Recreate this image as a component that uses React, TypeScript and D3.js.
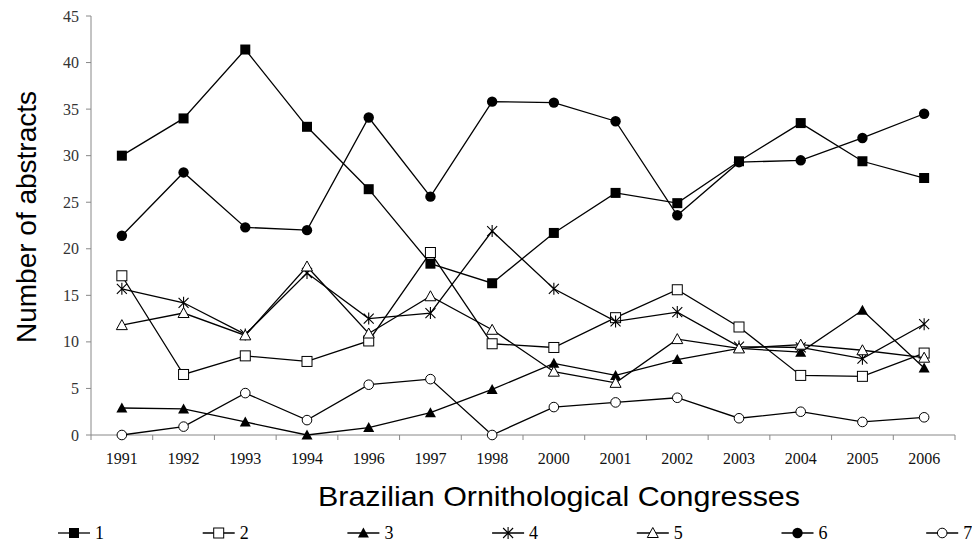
import React from "react";
import * as d3 from "d3";

const congresses = ["1991", "1992", "1993", "1994", "1996", "1997", "1998", "2000", "2001", "2002", "2003", "2004", "2005", "2006"];

const s1 = [30.0, 34.0, 41.4, 33.1, 26.4, 18.4, 16.3, 21.7, 26.0, 24.9, 29.4, 33.5, 29.4, 27.6];
const s2 = [17.1, 6.5, 8.5, 7.9, 10.1, 19.6, 9.8, 9.4, 12.6, 15.6, 11.6, 6.4, 6.3, 8.8];
const s3 = [2.9, 2.8, 1.4, 0, 0.8, 2.4, 4.9, 7.7, 6.4, 8.1, 9.3, 8.9, 13.4, 7.2];
const s4 = [15.7, 14.2, 10.8, 17.4, 12.5, 13.1, 21.9, 15.7, 12.2, 13.2, 9.5, 9.4, 8.2, 11.9];
const s5 = [11.8, 13.1, 10.7, 18.1, 10.9, 14.9, 11.3, 6.8, 5.6, 10.3, 9.3, 9.7, 9.1, 8.3];
const s6 = [21.4, 28.2, 22.3, 22.0, 34.1, 25.6, 35.8, 35.7, 33.7, 23.6, 29.3, 29.5, 31.9, 34.5];
const s7 = [0, 0.9, 4.5, 1.6, 5.4, 6.0, 0, 3.0, 3.5, 4.0, 1.8, 2.5, 1.4, 1.9];

const seriesNames = ["1", "2", "3", "4", "5", "6", "7"];
const seriesMarkers = ["squareFilled", "squareOpen", "triFilled", "star", "triOpen", "circleFilled", "circleOpen"];
const seriesValues = [s1, s2, s3, s4, s5, s6, s7];

const yTicks = [0, 5, 10, 15, 20, 25, 30, 35, 40, 45];

function Marker({ kind, x, y }: { kind: string; x: number; y: number }) {
  const t = `translate(${x},${y})`;
  if (kind === "squareFilled") return <rect transform={t} x={-5} y={-5} width={10} height={10} fill="#000" />;
  if (kind === "squareOpen") return <rect transform={t} x={-5} y={-5} width={10} height={10} fill="#fff" stroke="#000" strokeWidth={1} />;
  if (kind === "triFilled") return <path transform={t} d="M0,-5.5L5.5,4.5L-5.5,4.5Z" fill="#000" />;
  if (kind === "triOpen") return <path transform={t} d="M0,-5.5L5.5,4.5L-5.5,4.5Z" fill="#fff" stroke="#000" strokeWidth={1} />;
  if (kind === "circleFilled") return <circle transform={t} r={5.2} fill="#000" />;
  if (kind === "circleOpen") return <circle transform={t} r={4.8} fill="#fff" stroke="#000" strokeWidth={1} />;
  // asterisk: x plus vertical bar
  return <path transform={t} d="M-5,-5L5,5M-5,5L5,-5M0,-6L0,6" fill="none" stroke="#000" strokeWidth={1.1} />;
}

export default function App() {
  const width = 972;
  const height = 544;
  const left = 91, right = 955, top = 16, bottom = 435;

  const x = d3.scaleBand<string>().domain(congresses).range([left, right]).padding(0);
  const y = d3.scaleLinear().domain([0, 45]).range([bottom, top]);
  const cx = (c: string) => (x(c) as number) + x.bandwidth() / 2;

  const line = d3.line<number>()
    .x((_, i) => cx(congresses[i]))
    .y(d => y(d));

  const boundaries = congresses.map(c => x(c) as number).concat([right]);

  return (
    <svg width={width} height={height} style={{ position: "absolute", left: 0, top: 0 }}>
      <rect width={width} height={height} fill="#fff" />

      {/* axes */}
      <line x1={left} x2={left} y1={top} y2={bottom} stroke="#888" strokeWidth={1} />
      <line x1={left} x2={right} y1={bottom} y2={bottom} stroke="#888" strokeWidth={1} />
      {yTicks.map(t => (
        <g key={t}>
          <line x1={left - 5} x2={left} y1={y(t)} y2={y(t)} stroke="#888" />
          <text x={left - 12} y={y(t)} dy="0.35em" textAnchor="end" fontFamily="Liberation Serif, serif" fontSize={16} fill="#333">{t}</text>
        </g>
      ))}
      {boundaries.map((b, i) => (
        <line key={i} x1={b} x2={b} y1={bottom} y2={bottom + 5} stroke="#888" />
      ))}
      {congresses.map(c => (
        <text key={c} x={cx(c)} y={bottom + 29} textAnchor="middle" fontFamily="Liberation Serif, serif" fontSize={16} fill="#111">{c}</text>
      ))}

      <text transform={`translate(36,217) rotate(-90)`} textAnchor="middle" fontFamily="Liberation Sans, Arial, sans-serif" fontSize={28} fill="#000">Number of abstracts</text>
      <text x={559} y={506} textAnchor="middle" fontFamily="Liberation Sans, Arial, sans-serif" fontSize={28} textLength={482} lengthAdjust="spacingAndGlyphs" fill="#000">Brazilian Ornithological Congresses</text>

      {/* series */}
      {seriesValues.map((vals, si) => (
        <g key={si}>
          <path d={line(vals) as string} fill="none" stroke="#000" strokeWidth={1.3} />
          {vals.map((v, i) => (
            <Marker key={i} kind={seriesMarkers[si]} x={cx(congresses[i])} y={y(v)} />
          ))}
        </g>
      ))}

      {/* legend */}
      {seriesNames.map((n, i) => {
        const x0 = 58 + i * 144.7;
        const ly = 533;
        return (
          <g key={n}>
            <line x1={x0} x2={x0 + 32} y1={ly} y2={ly} stroke="#000" strokeWidth={1.3} />
            <Marker kind={seriesMarkers[i]} x={x0 + 16} y={ly} />
            <text x={x0 + 37} y={ly} dy="0.35em" fontFamily="Liberation Serif, serif" fontSize={18} fill="#000">{n}</text>
          </g>
        );
      })}
    </svg>
  );
}
